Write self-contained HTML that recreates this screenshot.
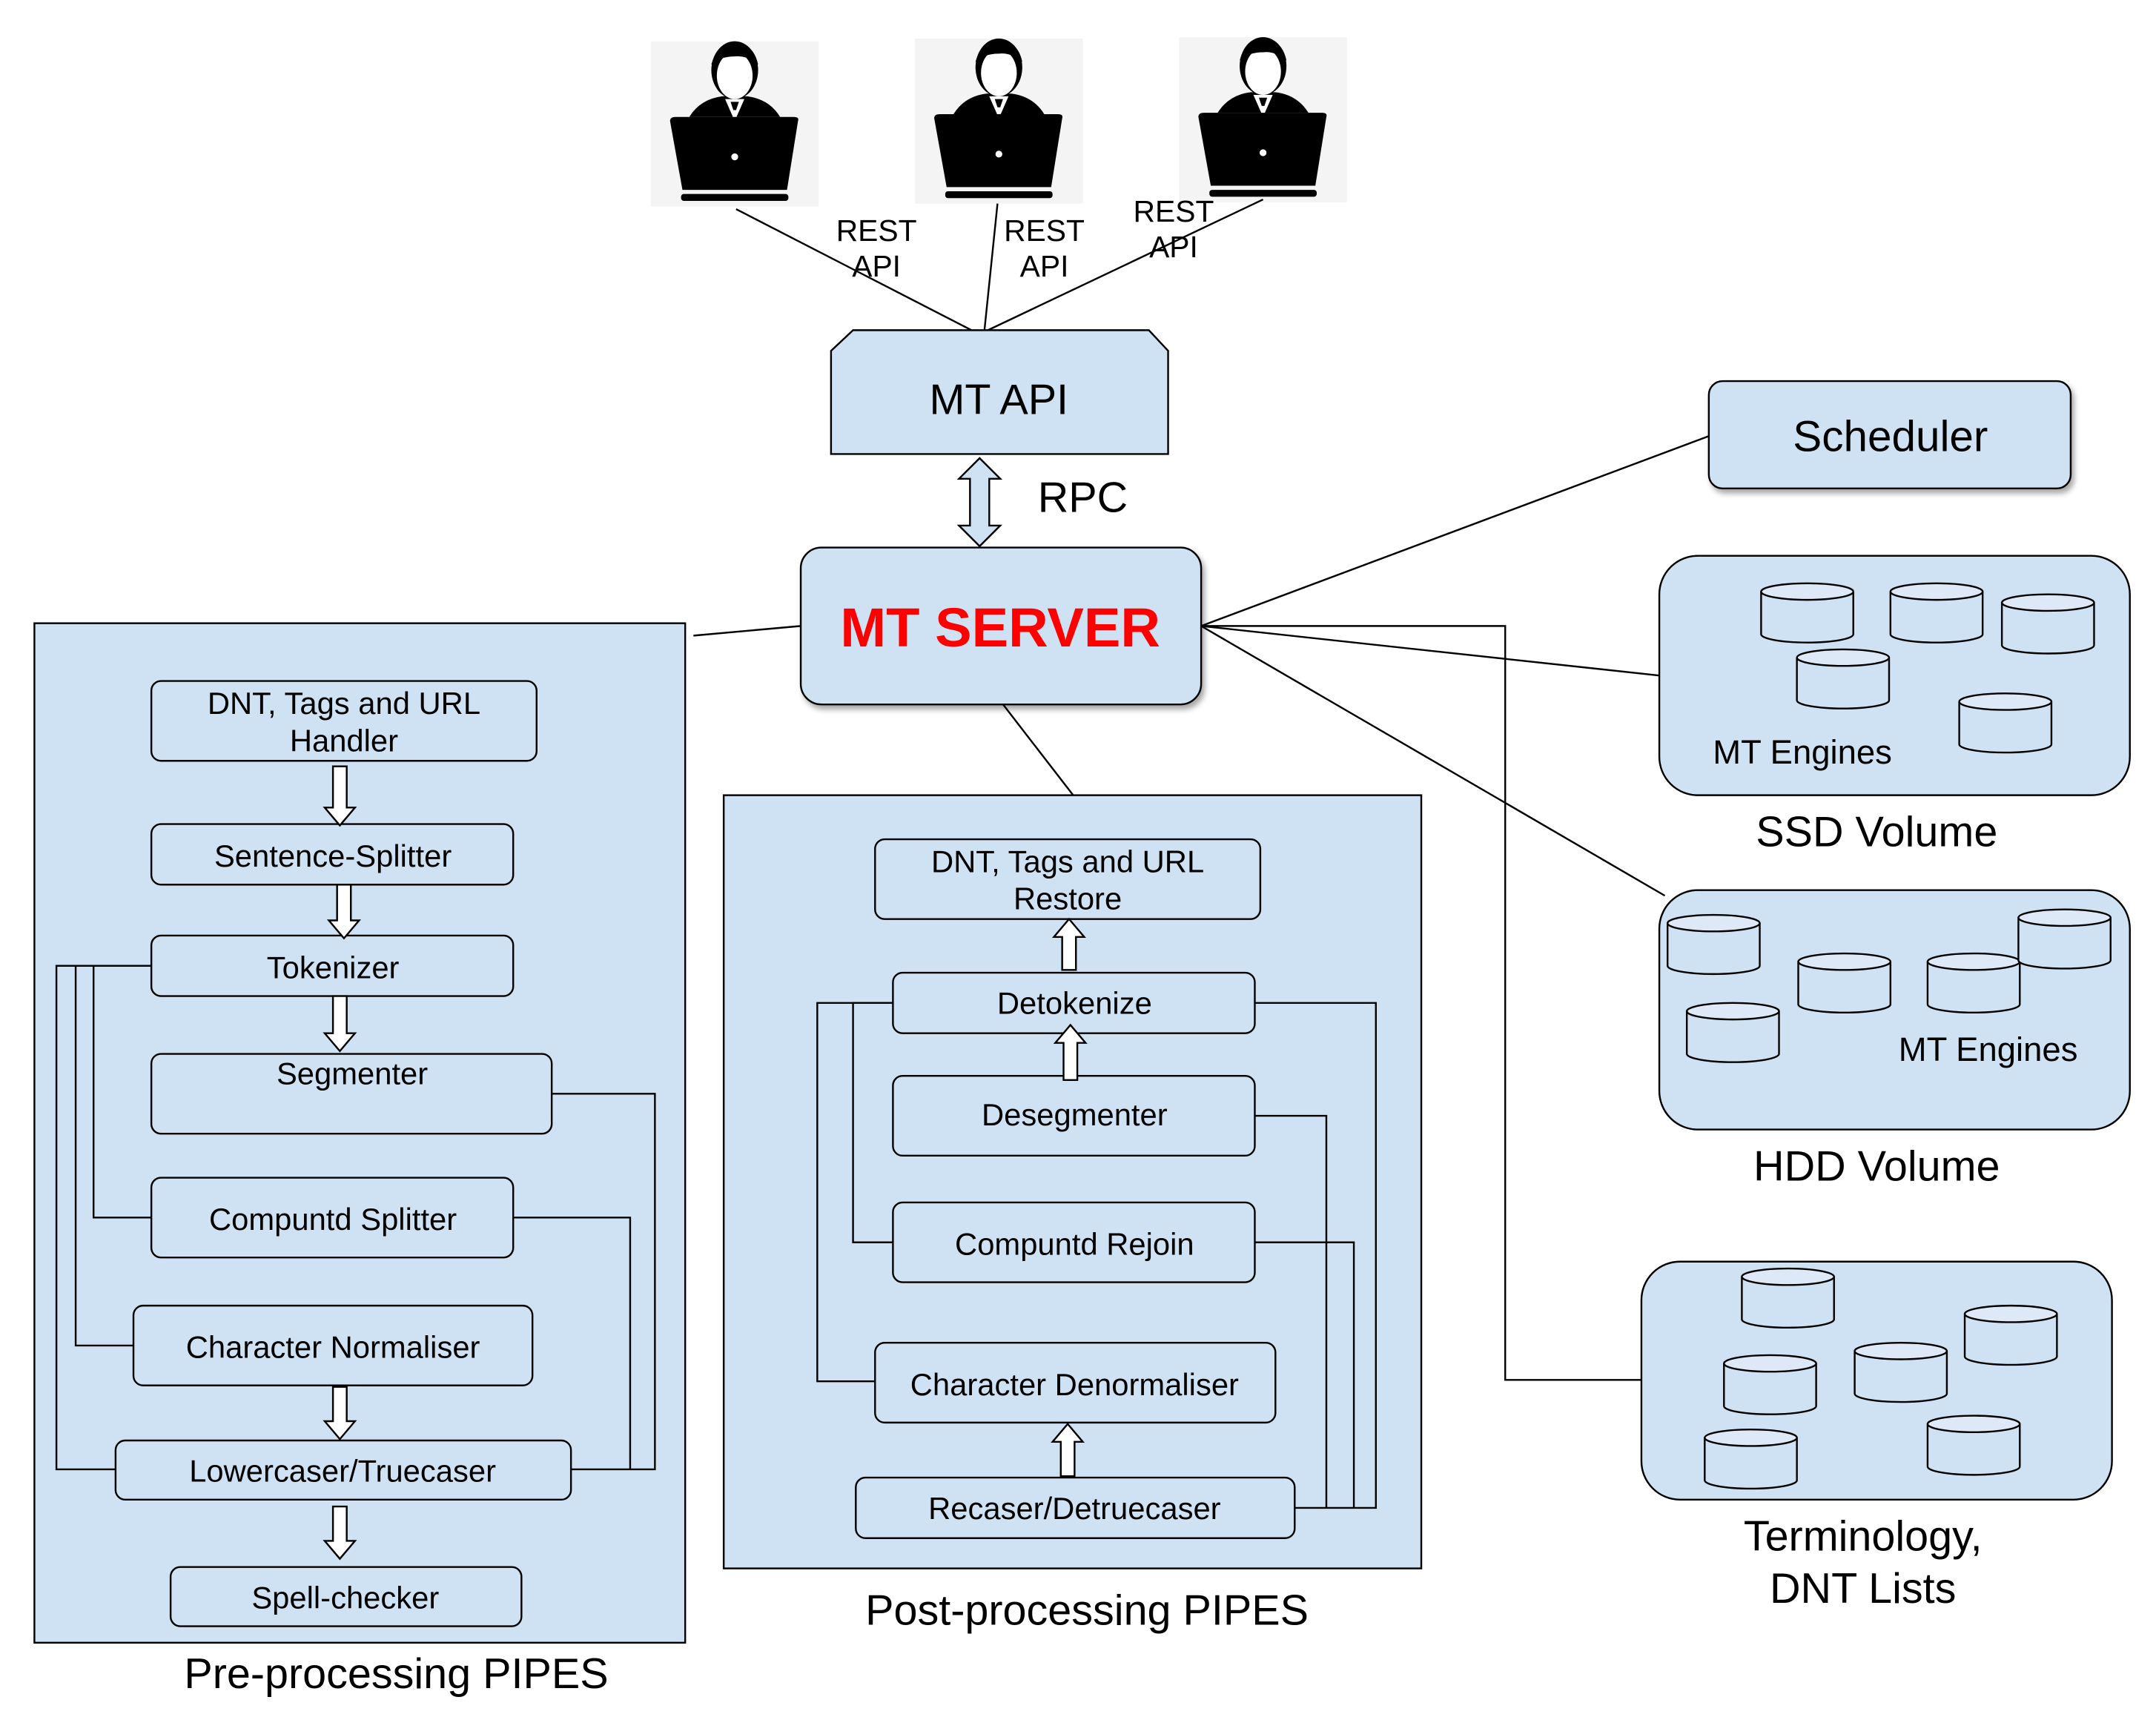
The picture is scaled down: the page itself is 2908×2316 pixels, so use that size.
<!DOCTYPE html>
<html><head><meta charset="utf-8"><style>html,body{margin:0;padding:0;background:#fff}svg{display:block}</style></head>
<body>
<svg width="2908" height="2316" viewBox="0 0 1567 1248" xmlns="http://www.w3.org/2000/svg" font-family="Liberation Sans, sans-serif">
<defs>
<filter id="sh" x="-10%" y="-10%" width="130%" height="140%"><feDropShadow dx="2" dy="3" stdDeviation="2" flood-color="#000" flood-opacity="0.35"/></filter>
<g id="user">
<rect x="0" y="0" width="122" height="120" fill="#f4f4f4"/>
<path d="M28 55 Q36 42 52 40 L70 40 Q86 42 94 55 Z" fill="#000"/>
<path d="M54 42 L61 58 L68 42 Z" fill="#fff"/>
<path d="M58 44 L64 44 L62 50 L60 50 Z" fill="#000"/>
<ellipse cx="61" cy="21" rx="17" ry="21" fill="#000"/>
<ellipse cx="61" cy="25" rx="13" ry="17" fill="#fff"/>
<path d="M44 17 Q48 2 61 1 Q75 2 78 17 Q70 10 61 11 Q50 11 44 17 Z" fill="#000"/>
<path d="M14 58 Q14 55 18 55 L104 55 Q108 55 107 58 L99 108 L23 108 Z" fill="#000"/>
<circle cx="61" cy="84" r="2.5" fill="#fff"/>
<rect x="22" y="111" width="78" height="5" rx="2" fill="#000"/>
</g>
<g id="cyl">
<path d="M0 6 L0 37 A33.5 6 0 0 0 67 37 L67 6" fill="#cfe2f3" stroke="#000" stroke-width="1.3"/>
<ellipse cx="33.5" cy="6" rx="33.5" ry="6" fill="#dde9f6" stroke="#000" stroke-width="1.3"/>
</g>
</defs>
<rect width="1567" height="1248" fill="#fff"/>
<use href="#user" x="473" y="30"/>
<use href="#user" x="665" y="28"/>
<use href="#user" x="857" y="27"/>
<g stroke="#000" stroke-width="1.3" fill="none">
<line x1="535" y1="152" x2="710" y2="242"/>
<line x1="725" y1="148" x2="715" y2="245"/>
<line x1="918" y1="145" x2="718" y2="240"/>
<line x1="873" y1="455" x2="1242" y2="317"/>
<line x1="873" y1="455" x2="1206" y2="491"/>
<line x1="873" y1="455" x2="1210" y2="651"/>
<polyline points="873,455 1094,455 1094,1003 1193,1003"/>
<line x1="504" y1="462" x2="582" y2="455"/>
<line x1="729" y1="512" x2="780" y2="578"/>
</g>
<g font-size="22" text-anchor="middle">
<text x="637" y="175">REST</text><text x="637" y="201">API</text>
<text x="759" y="175">REST</text><text x="759" y="201">API</text>
<text x="853" y="161">REST</text><text x="853" y="187">API</text>
</g>
<polygon points="604,255 620,240 835,240 849,255 849,330 604,330" fill="#cfe2f3" stroke="#000" stroke-width="1.3"/>
<text x="726" y="301" font-size="31" text-anchor="middle">MT API</text>
<polygon points="712,333 727,348 719,348 719,382 727,382 712,397 697,382 705,382 705,348 697,348" fill="#cfe2f3" stroke="#000" stroke-width="1.3"/>
<text x="787" y="372" font-size="31" text-anchor="middle">RPC</text>
<rect x="582" y="398" width="291" height="114" rx="15" fill="#cfe2f3" stroke="#000" stroke-width="1.3" filter="url(#sh)"/>
<text x="727" y="470" font-size="40" font-weight="bold" fill="#ff0000" text-anchor="middle">MT SERVER</text>
<rect x="1242" y="277" width="263" height="78" rx="10" fill="#cfe2f3" stroke="#000" stroke-width="1.3" filter="url(#sh)"/>
<text x="1374" y="328" font-size="31.5" text-anchor="middle">Scheduler</text>
<rect x="1206" y="404" width="342" height="174" rx="28" fill="#cfe2f3" stroke="#000" stroke-width="1.3"/>
<use href="#cyl" x="1280" y="424"/><use href="#cyl" x="1374" y="424"/><use href="#cyl" x="1455" y="432"/><use href="#cyl" x="1306" y="472"/><use href="#cyl" x="1424" y="504"/>
<text x="1310" y="555" font-size="24.5" text-anchor="middle">MT Engines</text>
<text x="1364" y="615" font-size="31" text-anchor="middle">SSD Volume</text>
<rect x="1206" y="647" width="342" height="174" rx="28" fill="#cfe2f3" stroke="#000" stroke-width="1.3"/>
<use href="#cyl" x="1212" y="665"/><use href="#cyl" x="1307" y="693"/><use href="#cyl" x="1401" y="693"/><use href="#cyl" x="1467" y="661"/><use href="#cyl" x="1226" y="729"/>
<text x="1445" y="771" font-size="24.5" text-anchor="middle">MT Engines</text>
<text x="1364" y="858" font-size="31" text-anchor="middle">HDD Volume</text>
<rect x="1193" y="917" width="342" height="173" rx="28" fill="#cfe2f3" stroke="#000" stroke-width="1.3"/>
<use href="#cyl" x="1266" y="922"/><use href="#cyl" x="1428" y="949"/><use href="#cyl" x="1253" y="985"/><use href="#cyl" x="1348" y="976"/><use href="#cyl" x="1239" y="1039"/><use href="#cyl" x="1401" y="1029"/>
<text x="1354" y="1127" font-size="31" text-anchor="middle">Terminology,</text>
<text x="1354" y="1165" font-size="31" text-anchor="middle">DNT Lists</text>

<rect x="25" y="453" width="473" height="741" fill="#cfe2f3" stroke="#000" stroke-width="1.3"/>
<text x="288" y="1227" font-size="31" text-anchor="middle">Pre-processing PIPES</text>
<rect x="526" y="578" width="507" height="562" fill="#cfe2f3" stroke="#000" stroke-width="1.3"/>
<text x="790" y="1181" font-size="31" text-anchor="middle">Post-processing PIPES</text>

<g stroke="#000" stroke-width="1.3" fill="none">
<polyline points="110,702 41,702 41,1068 84,1068"/>
<polyline points="110,702 55,702 55,978 97,978"/>
<polyline points="110,702 68,702 68,885 110,885"/>
<polyline points="401,795 476,795 476,1068 415,1068"/>
<polyline points="373,885 458,885 458,1068"/>
<polyline points="649,729 594,729 594,1004 636,1004"/>
<polyline points="649,729 620,729 620,903 649,903"/>
<polyline points="912,729 1000,729 1000,1096 941,1096"/>
<polyline points="912,811 964,811 964,1096"/>
<polyline points="912,903 984,903 984,1096"/>
</g>
<g fill="#cfe2f3" stroke="#000" stroke-width="1.3">
<rect x="110" y="495" width="280" height="58" rx="7"/>
<rect x="110" y="599" width="263" height="44" rx="7"/>
<rect x="110" y="680" width="263" height="44" rx="7"/>
<rect x="110" y="766" width="291" height="58" rx="7"/>
<rect x="110" y="856" width="263" height="58" rx="7"/>
<rect x="97" y="949" width="290" height="58" rx="7"/>
<rect x="84" y="1047" width="331" height="43" rx="7"/>
<rect x="124" y="1139" width="255" height="43" rx="7"/>
<rect x="636" y="610" width="280" height="58" rx="7"/>
<rect x="649" y="707" width="263" height="44" rx="7"/>
<rect x="649" y="782" width="263" height="58" rx="7"/>
<rect x="649" y="874" width="263" height="58" rx="7"/>
<rect x="636" y="976" width="291" height="58" rx="7"/>
<rect x="622" y="1074" width="319" height="44" rx="7"/>
</g>
<g fill="#fff" stroke="#000" stroke-width="1.3">
<polygon points="242,557 252,557 252,587 258,587 247,600 236,587 242,587"/>
<polygon points="245,643 255,643 255,669 261,669 250,682 239,669 245,669"/>
<polygon points="242,724 252,724 252,751 258,751 247,764 236,751 242,751"/>
<polygon points="242,1008 252,1008 252,1033 258,1033 247,1046 236,1033 242,1033"/>
<polygon points="242,1095 252,1095 252,1120 258,1120 247,1133 236,1120 242,1120"/>
<polygon points="772,705 782,705 782,681 788,681 777,668 766,681 772,681"/>
<polygon points="773,785 783,785 783,758 789,758 778,745 767,758 773,758"/>
<polygon points="771,1073 781,1073 781,1048 787,1048 776,1035 765,1048 771,1048"/>
</g>
<g font-size="22.5" text-anchor="middle">
<text x="250" y="519">DNT, Tags and URL</text><text x="250" y="546">Handler</text>
<text x="242" y="630">Sentence-Splitter</text>
<text x="242" y="711">Tokenizer</text>
<text x="256" y="788">Segmenter</text>
<text x="242" y="894">Compuntd Splitter</text>
<text x="242" y="987">Character Normaliser</text>
<text x="249" y="1077">Lowercaser/Truecaser</text>
<text x="251" y="1169">Spell-checker</text>
<text x="776" y="634">DNT, Tags and URL</text><text x="776" y="661">Restore</text>
<text x="781" y="737">Detokenize</text>
<text x="781" y="818">Desegmenter</text>
<text x="781" y="912">Compuntd Rejoin</text>
<text x="781" y="1014">Character Denormaliser</text>
<text x="781" y="1104">Recaser/Detruecaser</text>
</g>
</svg>
</body></html>
